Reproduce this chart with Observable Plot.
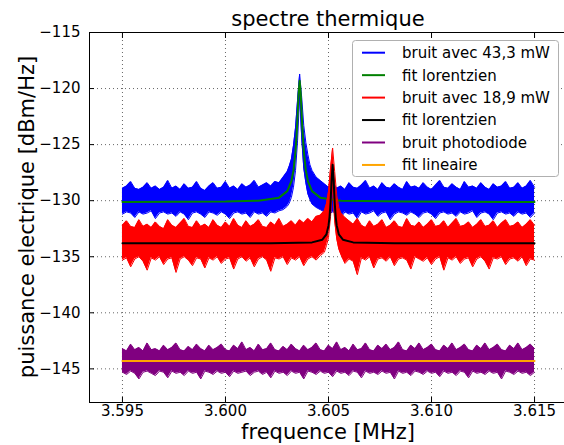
<!DOCTYPE html>
<html>
<head>
<meta charset="utf-8">
<script src="https://cdn.jsdelivr.net/npm/d3@7"></script>
<script src="https://cdn.jsdelivr.net/npm/@observablehq/plot@0.6"></script>
<style>
  html, body { margin: 0; padding: 0; background: #fff; overflow: hidden; }
  svg { display: block; }
</style>
</head>
<body>
<div id="chart"></div>
<script>
// ---- Data ----
const titre = "spectre thermique";
const labelX = "frequence [MHz]";
const labelY = "puissance electrique [dBm/Hz]";
const xTicks = [3.595, 3.600, 3.605, 3.610, 3.615];
const yTicks = [-145, -140, -135, -130, -125, -120, -115];

const seriesNames = ["bruit avec 43,3 mW", "fit lorentzien", "bruit avec 18,9 mW", "fit lorentzien", "bruit photodiode", "fit lineaire"];
const seriesColors = ["#0000ff", "#008000", "#ff0000", "#000000", "#800080", "#ffa500"];

// noise envelopes: [frequency MHz, upper dBm/Hz, lower dBm/Hz]
const bruitBleu = [
  [3.5950,-128.9,-131.2],[3.5952,-128.7,-131.0],[3.5954,-128.3,-131.1],[3.5956,-128.9,-131.5],
  [3.5958,-129.0,-131.0],[3.5960,-128.8,-131.2],[3.5962,-128.4,-131.1],[3.5964,-128.9,-130.9],
  [3.5966,-128.7,-131.6],[3.5968,-129.0,-131.1],[3.5970,-128.8,-131.0],[3.5972,-128.2,-131.2],
  [3.5974,-128.9,-131.1],[3.5976,-128.7,-131.4],[3.5978,-129.0,-131.0],[3.5980,-128.5,-131.2],
  [3.5982,-128.9,-131.7],[3.5984,-128.8,-131.1],[3.5986,-128.3,-131.0],[3.5988,-128.9,-131.2],
  [3.5990,-129.1,-131.5],[3.5992,-128.7,-131.0],[3.5994,-128.4,-131.1],[3.5996,-128.9,-131.3],
  [3.5998,-128.8,-131.0],[3.6000,-128.3,-131.2],[3.6002,-128.9,-131.6],[3.6004,-128.7,-131.1],
  [3.6006,-129.0,-131.0],[3.6008,-128.5,-131.2],[3.6010,-128.8,-131.1],[3.6012,-128.6,-131.5],
  [3.6014,-128.2,-131.0],[3.6016,-128.8,-131.2],[3.6018,-128.6,-131.1],[3.6020,-128.4,-131.4],
  [3.6022,-128.7,-131.0],[3.6024,-128.3,-131.1],[3.6026,-128.4,-130.9],[3.6028,-127.9,-130.8],
  [3.6030,-127.4,-130.5],[3.6031,-126.9,-130.2],[3.6032,-126.3,-129.7],[3.6033,-125.1,-128.8],
  [3.6034,-123.5,-127.3],[3.6035,-121.0,-124.6],[3.6036,-118.7,-120.6],[3.6037,-120.8,-124.4],
  [3.6038,-123.3,-127.1],[3.6039,-124.8,-128.4],[3.6040,-125.9,-129.4],[3.6041,-126.8,-129.9],
  [3.6042,-127.3,-130.3],[3.6044,-127.9,-130.6],[3.6046,-128.2,-130.8],[3.6048,-128.5,-131.0],
  [3.6050,-128.8,-131.2],[3.6052,-128.3,-131.0],[3.6054,-128.9,-131.1],[3.6056,-128.7,-131.5],
  [3.6058,-129.0,-131.0],[3.6060,-128.4,-131.2],[3.6062,-128.8,-131.1],[3.6064,-128.9,-131.6],
  [3.6066,-128.6,-131.0],[3.6068,-128.2,-131.2],[3.6070,-128.9,-131.1],[3.6072,-128.7,-130.9],
  [3.6074,-129.0,-131.4],[3.6076,-128.4,-131.1],[3.6078,-128.8,-131.0],[3.6080,-128.9,-131.7],
  [3.6082,-128.5,-131.2],[3.6084,-128.8,-131.0],[3.6086,-129.0,-131.1],[3.6088,-128.3,-131.3],
  [3.6090,-128.8,-131.0],[3.6092,-128.7,-131.2],[3.6094,-128.9,-131.5],[3.6096,-128.4,-131.1],
  [3.6098,-128.8,-131.0],[3.6100,-129.0,-131.2],[3.6102,-128.6,-131.6],[3.6104,-128.2,-131.1],
  [3.6106,-128.8,-131.0],[3.6108,-128.9,-131.2],[3.6110,-128.5,-131.1],[3.6112,-128.8,-131.4],
  [3.6114,-129.0,-131.0],[3.6116,-128.3,-131.2],[3.6118,-128.8,-131.1],[3.6120,-128.7,-130.9],
  [3.6122,-128.9,-131.5],[3.6124,-128.4,-131.1],[3.6126,-128.8,-131.0],[3.6128,-129.0,-131.2],
  [3.6130,-128.5,-131.7],[3.6132,-128.8,-131.1],[3.6134,-128.7,-131.0],[3.6136,-128.3,-131.2],
  [3.6138,-128.9,-131.1],[3.6140,-128.8,-131.4],[3.6142,-128.4,-131.0],[3.6144,-128.9,-131.2],
  [3.6146,-128.7,-131.1],[3.6148,-128.2,-131.5],[3.6150,-128.8,-131.1]
];
const bruitRouge = [
  [3.5950,-132.2,-135.3],[3.5952,-131.8,-135.1],[3.5954,-132.3,-135.9],[3.5956,-132.4,-135.2],
  [3.5958,-131.7,-135.0],[3.5960,-132.3,-135.4],[3.5962,-132.1,-136.2],[3.5964,-132.4,-135.1],
  [3.5966,-131.9,-135.3],[3.5968,-132.3,-135.0],[3.5970,-132.5,-135.7],[3.5972,-131.7,-135.2],
  [3.5974,-132.2,-135.1],[3.5976,-132.4,-136.4],[3.5978,-132.0,-135.2],[3.5980,-131.6,-135.0],
  [3.5982,-132.3,-135.3],[3.5984,-132.4,-135.8],[3.5986,-131.8,-135.1],[3.5988,-132.3,-135.2],
  [3.5990,-132.1,-136.0],[3.5992,-132.4,-135.1],[3.5994,-131.7,-135.3],[3.5996,-132.2,-135.0],
  [3.5998,-132.4,-135.6],[3.6000,-131.9,-135.2],[3.6002,-132.3,-135.1],[3.6004,-131.6,-136.1],
  [3.6006,-132.2,-135.2],[3.6008,-132.4,-135.0],[3.6010,-131.8,-135.4],[3.6012,-132.3,-135.1],
  [3.6014,-132.1,-135.9],[3.6016,-131.7,-135.2],[3.6018,-132.3,-135.0],[3.6020,-132.4,-135.3],
  [3.6022,-131.9,-136.3],[3.6024,-132.2,-135.1],[3.6026,-131.6,-135.2],[3.6028,-132.3,-135.0],
  [3.6030,-132.1,-135.7],[3.6032,-131.8,-135.1],[3.6034,-132.2,-135.3],[3.6036,-131.7,-135.0],
  [3.6038,-132.0,-135.8],[3.6040,-131.6,-135.2],[3.6042,-131.9,-135.0],[3.6044,-131.4,-135.3],
  [3.6046,-131.3,-134.9],[3.6048,-130.9,-134.6],[3.6049,-130.3,-134.0],[3.6050,-129.2,-133.3],
  [3.6051,-127.1,-131.4],[3.6052,-125.3,-128.6],[3.6053,-127.4,-131.8],[3.6054,-129.5,-133.4],
  [3.6055,-130.6,-134.3],[3.6056,-131.1,-134.8],[3.6058,-131.5,-135.6],[3.6060,-131.8,-135.2],
  [3.6062,-132.1,-135.4],[3.6064,-131.6,-136.6],[3.6066,-132.2,-135.1],[3.6068,-132.4,-135.3],
  [3.6070,-131.8,-135.0],[3.6072,-132.3,-136.0],[3.6074,-132.1,-135.2],[3.6076,-131.7,-135.1],
  [3.6078,-132.4,-135.4],[3.6080,-132.2,-135.0],[3.6082,-131.8,-135.8],[3.6084,-132.3,-135.2],
  [3.6086,-132.4,-135.1],[3.6088,-131.6,-135.3],[3.6090,-132.2,-136.1],[3.6092,-132.3,-135.0],
  [3.6094,-131.9,-135.2],[3.6096,-132.4,-135.4],[3.6098,-132.1,-135.1],[3.6100,-131.7,-135.7],
  [3.6102,-132.3,-135.2],[3.6104,-132.2,-135.0],[3.6106,-131.8,-136.2],[3.6108,-132.4,-135.1],
  [3.6110,-132.0,-135.3],[3.6112,-131.6,-135.0],[3.6114,-132.3,-135.6],[3.6116,-132.2,-135.2],
  [3.6118,-131.9,-135.1],[3.6120,-132.4,-135.9],[3.6122,-132.1,-135.2],[3.6124,-131.7,-135.0],
  [3.6126,-132.3,-135.4],[3.6128,-132.2,-136.1],[3.6130,-131.8,-135.1],[3.6132,-132.4,-135.2],
  [3.6134,-132.0,-135.0],[3.6136,-131.7,-135.7],[3.6138,-132.3,-135.2],[3.6140,-132.2,-135.1],
  [3.6142,-131.9,-135.4],[3.6144,-132.4,-135.0],[3.6146,-132.1,-135.8],[3.6148,-131.7,-135.2],
  [3.6150,-132.2,-135.3]
];
const bruitViolet = [
  [3.5950,-143.2,-145.3],[3.5952,-143.4,-145.5],[3.5954,-142.8,-145.2],[3.5956,-143.3,-145.4],
  [3.5958,-143.1,-145.9],[3.5960,-143.4,-145.3],[3.5962,-142.7,-145.2],[3.5964,-143.3,-145.4],
  [3.5966,-143.2,-145.6],[3.5968,-143.4,-145.2],[3.5970,-142.9,-145.3],[3.5972,-143.3,-145.8],
  [3.5974,-143.1,-145.2],[3.5976,-142.7,-145.4],[3.5978,-143.3,-145.3],[3.5980,-143.4,-145.6],
  [3.5982,-143.0,-145.2],[3.5984,-143.3,-145.4],[3.5986,-142.8,-145.3],[3.5988,-143.2,-145.9],
  [3.5990,-143.4,-145.2],[3.5992,-142.9,-145.3],[3.5994,-143.3,-145.5],[3.5996,-143.1,-145.2],
  [3.5998,-142.8,-145.4],[3.6000,-143.3,-145.3],[3.6002,-143.4,-145.7],[3.6004,-142.9,-145.2],
  [3.6006,-143.2,-145.4],[3.6008,-142.6,-145.3],[3.6010,-143.3,-145.2],[3.6012,-143.1,-145.6],
  [3.6014,-143.4,-145.3],[3.6016,-142.8,-145.2],[3.6018,-143.3,-145.5],[3.6020,-143.2,-145.3],
  [3.6022,-142.7,-145.8],[3.6024,-143.3,-145.2],[3.6026,-143.4,-145.4],[3.6028,-143.0,-145.3],
  [3.6030,-143.3,-145.6],[3.6032,-142.8,-145.2],[3.6034,-143.2,-145.4],[3.6036,-143.4,-145.3],
  [3.6038,-142.9,-145.9],[3.6040,-143.3,-145.2],[3.6042,-143.1,-145.3],[3.6044,-142.7,-145.5],
  [3.6046,-143.3,-145.2],[3.6048,-143.4,-145.4],[3.6050,-142.9,-145.3],[3.6052,-143.2,-145.7],
  [3.6054,-142.6,-145.2],[3.6056,-143.3,-145.4],[3.6058,-143.1,-145.3],[3.6060,-143.4,-145.6],
  [3.6062,-142.8,-145.2],[3.6064,-143.3,-145.3],[3.6066,-143.2,-145.8],[3.6068,-142.7,-145.2],
  [3.6070,-143.3,-145.4],[3.6072,-143.4,-145.3],[3.6074,-142.9,-145.5],[3.6076,-143.2,-145.2],
  [3.6078,-142.8,-145.4],[3.6080,-143.3,-145.3],[3.6082,-143.1,-145.9],[3.6084,-142.6,-145.2],
  [3.6086,-143.3,-145.4],[3.6088,-143.4,-145.3],[3.6090,-142.9,-145.6],[3.6092,-143.2,-145.2],
  [3.6094,-142.7,-145.3],[3.6096,-143.3,-145.5],[3.6098,-143.1,-145.2],[3.6100,-142.8,-145.4],
  [3.6102,-143.3,-145.3],[3.6104,-143.4,-145.7],[3.6106,-142.9,-145.2],[3.6108,-143.2,-145.4],
  [3.6110,-142.7,-145.3],[3.6112,-143.3,-145.6],[3.6114,-143.1,-145.2],[3.6116,-142.8,-145.3],
  [3.6118,-143.3,-145.8],[3.6120,-143.4,-145.2],[3.6122,-142.9,-145.4],[3.6124,-143.2,-145.3],
  [3.6126,-142.7,-145.5],[3.6128,-143.3,-145.2],[3.6130,-143.1,-145.4],[3.6132,-142.8,-145.3],
  [3.6134,-143.3,-145.9],[3.6136,-143.4,-145.2],[3.6138,-142.9,-145.3],[3.6140,-143.2,-145.5],
  [3.6142,-142.7,-145.2],[3.6144,-143.3,-145.4],[3.6146,-143.1,-145.3],[3.6148,-142.8,-145.6],
  [3.6150,-143.2,-145.3]
];
// fitted curves: [frequency MHz, dBm/Hz]
const fitVert = [
  [3.5950,-130.12],[3.6000,-130.08],[3.6016,-130.0],[3.6026,-129.73],[3.6030,-129.15],
  [3.6032,-128.25],[3.6033,-127.3],[3.6034,-125.55],[3.60345,-124.2],[3.6035,-122.4],
  [3.60355,-120.4],[3.6036,-119.3],[3.60365,-120.4],[3.6037,-122.4],[3.60375,-124.2],
  [3.6038,-125.55],[3.6039,-127.3],[3.6040,-128.25],[3.6042,-129.15],[3.6046,-129.73],
  [3.6056,-130.0],[3.6086,-130.08],[3.6150,-130.12]
];
const fitNoir = [
  [3.5950,-133.8],[3.6022,-133.79],[3.6042,-133.72],[3.6047,-133.48],[3.6049,-133.0],
  [3.6050,-132.23],[3.60505,-131.46],[3.6051,-130.15],[3.60515,-128.2],[3.6052,-126.8],
  [3.60525,-128.2],[3.6053,-130.15],[3.60535,-131.46],[3.6054,-132.23],[3.6055,-133.0],
  [3.6057,-133.48],[3.6062,-133.72],[3.6082,-133.79],[3.6150,-133.8]
];
const fitOrange = [[3.5950,-144.3],[3.6150,-144.3]];

const FONT = "DejaVu Sans, Bitstream Vera Sans, sans-serif";

function band(data, color) {
  return [
    Plot.areaY(data, {x: d => d[0], y1: d => d[2], y2: d => d[1], fill: color}),
    Plot.line(data, {x: d => d[0], y: d => d[1], stroke: color, strokeWidth: 1}),
    Plot.line(data, {x: d => d[0], y: d => d[2], stroke: color, strokeWidth: 1})
  ];
}
function fit(data, color) {
  return Plot.line(data, {x: d => d[0], y: d => d[1], stroke: color, strokeWidth: 2});
}

const gridStyle = {stroke: "#000", strokeOpacity: 0.6, strokeDasharray: "1,3", strokeWidth: 1};

const chart = Plot.plot({
  width: 564,
  height: 445,
  marginLeft: 89,
  marginRight: -3,
  marginTop: 32,
  marginBottom: 43,
  style: {fontFamily: FONT, fontSize: "15px", color: "#000", background: "#fff"},
  x: {domain: [3.5934, 3.6166]},
  y: {domain: [-148, -115]},
  marks: [
    Plot.gridX(xTicks, gridStyle),
    Plot.gridY(yTicks, gridStyle),
    ...band(bruitBleu, seriesColors[0]),
    fit(fitVert, seriesColors[1]),
    ...band(bruitRouge, seriesColors[2]),
    fit(fitNoir, seriesColors[3]),
    ...band(bruitViolet, seriesColors[4]),
    fit(fitOrange, seriesColors[5]),
    Plot.frame({stroke: "#000", strokeWidth: 1}),
    Plot.axisX(xTicks, {anchor: "bottom", tickSize: 0, tickPadding: 3, tickFormat: d3.format(".3f"), label: null, fontSize: 15}),
    Plot.axisY(yTicks, {anchor: "left", tickSize: 0, tickPadding: 9, tickFormat: d3.format("d"), label: null, fontSize: 15}),
    Plot.axisX(xTicks, {anchor: "bottom", tickSize: -5, fill: "none", label: null}),
    Plot.axisX(xTicks, {anchor: "top", tickSize: -5, fill: "none", label: null}),
    Plot.axisY(yTicks, {anchor: "left", tickSize: -5, fill: "none", label: null})
  ]
});

document.getElementById("chart").appendChild(chart);

const svg = d3.select(chart);
const cx = (89 + 567) / 2;
svg.append("text").attr("x", cx).attr("y", 26).attr("text-anchor", "middle")
  .attr("font-family", FONT).attr("font-size", 21).attr("fill", "#000").text(titre);
svg.append("text").attr("x", cx).attr("y", 439).attr("text-anchor", "middle")
  .attr("font-family", FONT).attr("font-size", 21).attr("fill", "#000").text(labelX);
svg.append("text").attr("transform", "translate(34,217) rotate(-90)").attr("text-anchor", "middle")
  .attr("font-family", FONT).attr("font-size", 21).attr("fill", "#000").text(labelY);

// legend
const lg = svg.append("g");
lg.append("rect").attr("x", 352.5).attr("y", 40.5).attr("width", 206).attr("height", 136)
  .attr("rx", 3).attr("fill", "#fff").attr("stroke", "#b0b0b0").attr("stroke-width", 1);
seriesNames.forEach((name, i) => {
  const y = 52.7 + 22.45 * i;
  lg.append("line").attr("x1", 362).attr("x2", 385).attr("y1", y).attr("y2", y)
    .attr("stroke", seriesColors[i]).attr("stroke-width", 2);
  lg.append("text").attr("x", 402).attr("y", y).attr("dy", "0.36em").attr("text-anchor", "start")
    .attr("font-family", FONT).attr("font-size", 15).attr("fill", "#000").text(name);
});
</script>
</body>
</html>
